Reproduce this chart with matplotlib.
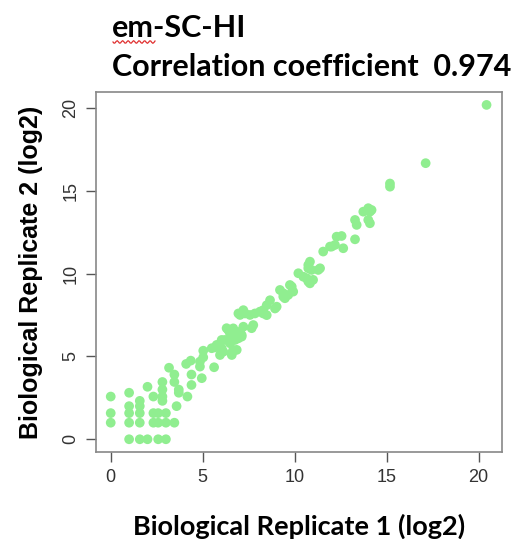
import matplotlib
matplotlib.use("Agg")
import matplotlib.pyplot as plt
import numpy as np

plt.rcParams['font.family'] = ['Liberation Sans', 'DejaVu Sans']

# log2 values for the two biological replicates
rep1 = [
    0, 0, 0,
    1, 1, 1, 1, 1,
    1.58, 1.58, 1.58, 1.58, 1.58,
    2, 2,
    2.32, 2.32, 2.32,
    2.58, 2.58, 2.58,
    2.81, 2.81, 2.81, 2.81,
    3.0, 3.0, 3.0,
    3.17, 3.46, 3.58, 3.46, 3.46, 3.7, 3.7,
    4.1, 4.35, 4.39, 4.39, 4.17,
    4.85, 4.95, 5.03, 5.03, 4.85,
    5.49, 5.67, 5.62, 5.76, 6.03, 6.03, 6.12, 5.94, 6.21,
    6.39, 6.58, 6.58, 6.85, 6.76, 6.94,
    6.3, 6.48, 6.76, 6.94, 7.12, 6.66, 6.48, 6.66, 6.58,
    7.03, 7.21, 7.3, 7.57, 7.84, 8.11, 8.29, 8.48,
    7.75, 7.66, 6.94, 7.21, 6.66, 7.03, 7.12,
    8.29, 8.66, 8.48, 8.93, 9.02,
    9.2, 9.38, 9.47, 9.65, 9.84, 9.92, 9.38, 9.74,
    10.2, 10.47, 10.74, 10.83, 11.0, 10.83, 11.28, 10.65, 10.74, 10.92, 10.74, 11.38,
    11.55, 11.92, 12.01, 12.19,
    12.28, 12.55, 12.64, 13.28,
    13.28, 13.37,
    13.73, 14.0, 14.09, 14.18,
    14.0, 14.09,
    15.18, 15.18,
    17.12,
    20.43,
]
rep2 = [
    2.58, 1.58, 1.0,
    2.81, 2.0, 1.58, 1.0, 0,
    2.32, 2.0, 1.58, 1.0, 0,
    3.17, 0,
    2.58, 1.58, 1.0,
    1.58, 1.0, 0,
    3.46, 3.0, 2.58, 2.32,
    1.58, 1.0, 0,
    4.32, 1.0, 2.0, 3.91, 3.46, 3.0, 2.81,
    4.55, 4.75, 3.91, 3.28, 2.58,
    4.39, 3.69, 5.35, 4.95, 4.69,
    5.5, 5.55, 4.35, 5.7, 6.0, 5.5, 5.29, 5.09, 6.0,
    6.6, 6.3, 5.2, 5.4, 6.0, 6.4,
    6.71, 6.41, 6.41, 6.1, 6.3, 6.0, 5.8, 5.4, 5.09,
    7.51, 6.8, 7.6, 7.51, 7.6, 7.71, 7.6, 8.1,
    6.9, 6.71, 7.6, 7.8, 6.7, 6.5, 6.2,
    7.8, 8.4, 7.5, 7.9, 8.01,
    9.02, 8.82, 8.52, 8.72, 9.22, 8.92, 8.62, 9.32,
    10.03, 9.82, 10.33, 10.73, 9.63, 9.42, 10.23, 9.73, 9.53, 10.23, 10.53, 10.33,
    11.34, 11.64, 11.64, 11.74,
    12.24, 12.28, 11.54, 12.08,
    13.25, 12.95,
    13.75, 13.96, 13.75, 13.85,
    13.25, 13.05,
    15.45, 15.26,
    16.68,
    20.2,
]

ticks = [0, 5, 10, 15, 20]

fig = plt.figure(figsize=(5.14, 5.39), dpi=100)
ax = fig.add_axes([96/514, 87/539, 406/514, 360/539])

ax.scatter(rep1, rep2, s=49, color='lightgreen', edgecolors='none', zorder=3)

ax.set_xlim(-0.80, 21.27)
ax.set_ylim(-0.77, 20.98)
ax.set_xticks(ticks)
ax.set_yticks(ticks)
for s in ax.spines.values():
    s.set_color('#888888')
    s.set_linewidth(1.2)
ax.tick_params(axis='both', direction='out', length=7, width=1, color='#555555',
               labelsize=13, labelcolor='#333333', pad=5)
for lab in ax.get_yticklabels():
    lab.set_rotation(90)
    lab.set_verticalalignment('center')

ax.set_xlabel('Biological Replicate 1 (log2)', family='Lato', fontweight='bold',
              fontsize=19.5, labelpad=20)
ax.set_ylabel('Biological Replicate 2 (log2)', fontweight='bold', fontsize=18, labelpad=14)

# heading above the panel
fig.text(112/514, 1 - 37/539, 'em-SC-HI', family='Lato', fontweight='bold', fontsize=22,
         ha='left', va='baseline')
fig.text(112/514, 1 - 76/539, 'Correlation coefficient  0.974', family='Lato',
         fontweight='bold', fontsize=22, ha='left', va='baseline')

# spell-check squiggle under "em"
sq_x = np.linspace(113, 155, 40)
sq_y = 42 + 1.3 * np.sin((sq_x - 113) * 2 * np.pi / 5.5)
fig.add_artist(plt.Line2D(sq_x / 514, 1 - sq_y / 539, color='#e03030', linewidth=0.9))

fig.savefig('out.png', dpi=100)
